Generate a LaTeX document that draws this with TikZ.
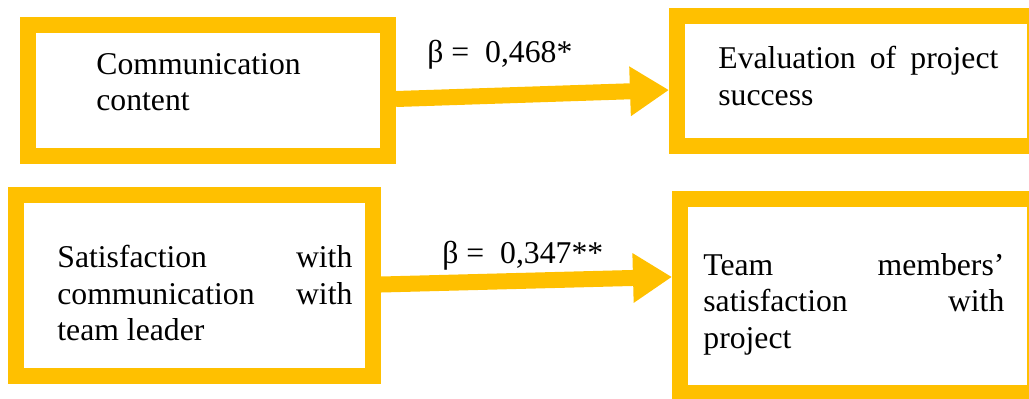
\documentclass[tikz,border=0pt]{standalone}
\usepackage{fontspec}
\setmainfont{Liberation Serif}
\usepackage{xcolor}
\usetikzlibrary{positioning,arrows.meta}
\definecolor{boxGold}{HTML}{FFC000}
\hyphenpenalty=10000
\exhyphenpenalty=10000

\begin{document}
\begin{tikzpicture}[
  x=0.5pt, y=-0.5pt,
  font=\fontsize{15.85}{18.25}\selectfont,
  frame/.style={draw=boxGold, line width=8pt, fill=white, inner sep=0pt},
  txt/.style={align=justify, inner sep=0pt, anchor=north west},
  coef/.style={inner sep=0pt, anchor=base west},
  flow/.style={-{Triangle[length=19.5pt,width=23.5pt]}, line width=8pt, draw=boxGold},
]
\useasboundingbox (0,0) rectangle (1029,398);

% ---- Cuadros ----
\node[frame, minimum width=180pt, minimum height=65.5pt]   (b1) at (208,90.5)    {};
\node[frame, minimum width=179pt, minimum height=65pt]     (b2) at (856,81)      {};
\node[frame, minimum width=178.5pt, minimum height=90.5pt] (b3) at (194.5,285.5) {};
\node[frame, minimum width=177.5pt, minimum height=97.25pt](b4) at (857.5,295.75){};

% ---- Textos ----
\node[txt, align=left, text width=112pt] (t1) at (96,53)  {Communication content};
\node[txt, text width=140pt]             (t2) at (718,46) {Evaluation of project success};
\node[txt, text width=147.5pt]           (t3) at (57,245) {Satisfaction with communication with team leader};
\node[txt, text width=150.5pt]           (t4) at (703,253){Team members’ satisfaction with\linebreak project};

% ---- Flechas ----
\draw[flow] ([yshift=-4.25pt]b1.east) -- ([yshift=-4.5pt]b2.west);
\draw[flow] ([yshift=0.5pt]b3.east) -- ([yshift=9.4pt]b4.west);

% ---- Coeficientes ----
\node[coef] (c1) at (427,62)  {β = \ 0,468*};
\node[coef] (c2) at (442,263) {β = \ 0,347**};

\end{tikzpicture}
\end{document}
